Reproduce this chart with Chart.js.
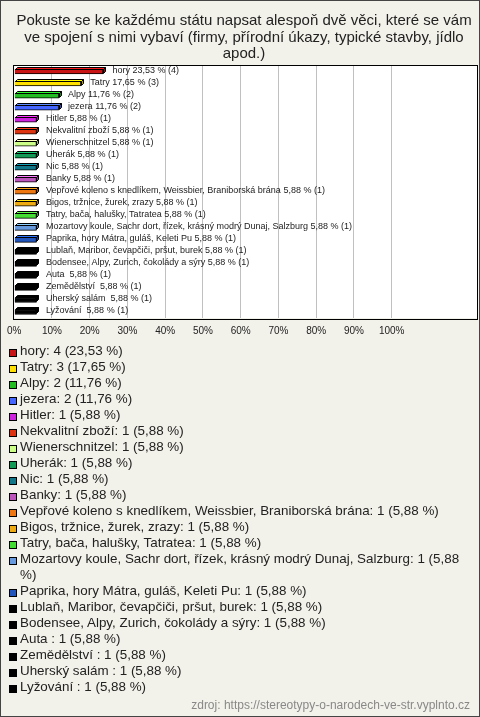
<!DOCTYPE html>
<html>
<head>
<meta charset="utf-8">
<script src="https://cdn.jsdelivr.net/npm/chart.js@4/dist/chart.umd.min.js"></script>
<style>
	body { margin: 0; background: #f3f2ea; }
	#frame { position: relative; width: 480px; height: 717px; background: #f3f2ea; overflow: hidden; font-family: 'Liberation Sans', Arial, sans-serif; }
	#graf { position: absolute; left: 0; top: 0; }
	#legenda { position: absolute; left: 9px; top: 343px; width: 456px; }
	.item { display: flex; align-items: flex-start; font-size: 13.4px; line-height: 16px; color: #222; }
	.ctverec { flex: none; width: 8px; height: 8px; box-sizing: border-box; border: 1px solid #000; margin-top: 6px; margin-right: 3px; }
	#zdroj { position: absolute; right: 10px; top: 698px; font-size: 12px; color: #888; }
	#ramecek { position: absolute; left: 0; top: 0; width: 480px; height: 717px; box-sizing: border-box; border: 1px solid #444; pointer-events: none; }
</style>
</head>
<body>
<div id="frame">
	<canvas id="graf" width="480" height="344"></canvas>
	<div id="legenda"></div>
	<div id="zdroj">zdroj: https://stereotypy-o-narodech-ve-str.vyplnto.cz</div>
	<div id="ramecek"></div>
</div>
<script>
// data
const titulek = [
	'Pokuste se ke každému státu napsat alespoň dvě věci, které se vám',
	've spojení s nimi vybaví (firmy, přírodní úkazy, typické stavby, jídlo',
	'apod.)',
];

const kategorie = [
	'hory',
	'Tatry',
	'Alpy',
	'jezera',
	'Hitler',
	'Nekvalitní zboží',
	'Wienerschnitzel',
	'Uherák',
	'Nic',
	'Banky',
	'Vepřové koleno s knedlíkem, Weissbier, Braniborská brána',
	'Bigos, tržnice, žurek, zrazy',
	'Tatry, bača, halušky, Tatratea',
	'Mozartovy koule, Sachr dort, řízek, krásný modrý Dunaj, Salzburg',
	'Paprika, hory Mátra, guláš, Keleti Pu',
	'Lublaň, Maribor, čevapčiči, pršut, burek',
	'Bodensee, Alpy, Zurich, čokolády a sýry',
	'Auta ',
	'Zemědělství ',
	'Uherský salám ',
	'Lyžování ',
];

const procenta = [23.53, 17.65, 11.76, 11.76, 5.88, 5.88, 5.88, 5.88, 5.88, 5.88, 5.88, 5.88, 5.88, 5.88, 5.88, 5.88, 5.88, 5.88, 5.88, 5.88, 5.88];
const pocty = [4, 3, 2, 2, 1, 1, 1, 1, 1, 1, 1, 1, 1, 1, 1, 1, 1, 1, 1, 1, 1];

const barvy = [
	'#c81414', '#ffe000', '#22bb22', '#4466ff', '#cc22dd',
	'#dd3311', '#ccff88', '#119955', '#117788', '#bb55bb',
	'#ee7711', '#eeaa11', '#44dd33', '#6699dd', '#2255bb',
	'#000000', '#000000', '#000000', '#000000', '#000000', '#000000',
];

const znackyOsy = [0, 10, 20, 30, 40, 50, 60, 70, 80, 90, 100];

function cislo(v) {
	return v.toFixed(2).replace('.', ',');
}

function zesvetlit(hex, k) {
	const n = parseInt(hex.slice(1), 16);
	const r = Math.min(255, Math.round(((n >> 16) & 255) * k));
	const g = Math.min(255, Math.round(((n >> 8) & 255) * k));
	const b = Math.min(255, Math.round((n & 255) * k));
	return 'rgb(' + r + ',' + g + ',' + b + ')';
}

// bila plocha + ramecek grafu
const plochaPlugin = {
	id: 'plocha',
	beforeDraw(chart) {
		const a = chart.chartArea;
		const ctx = chart.ctx;
		ctx.save();
		ctx.fillStyle = '#ffffff';
		ctx.fillRect(a.left, a.top, a.right - a.left, a.bottom - a.top);
		ctx.restore();
	},
	afterDraw(chart) {
		const a = chart.chartArea;
		const ctx = chart.ctx;
		ctx.save();
		ctx.strokeStyle = '#000';
		ctx.lineWidth = 1;
		ctx.strokeRect(Math.round(a.left) - 0.5, Math.round(a.top) - 0.5, Math.round(a.right - a.left) + 1, Math.round(a.bottom - a.top) + 1);
		ctx.restore();
	},
};

// 3D hrana sloupcu a popisky
const hloubka = 2;
const sloupcePlugin = {
	id: 'sloupce3d',
	afterDatasetsDraw(chart) {
		const ctx = chart.ctx;
		const meta = chart.getDatasetMeta(0);
		ctx.save();
		ctx.lineWidth = 1;
		ctx.strokeStyle = '#000';
		meta.data.forEach((el, i) => {
			const p = el.getProps(['x', 'y', 'base', 'height'], true);
			const x = Math.round(p.x) + 0.5;
			const b = Math.round(p.base) + 0.5;
			const top = Math.round(p.y - p.height / 2) + 0.5;
			const bottom = Math.round(p.y + p.height / 2) - 0.5;

			ctx.beginPath();
			ctx.moveTo(b, top);
			ctx.lineTo(b + hloubka, top - hloubka);
			ctx.lineTo(x + hloubka, top - hloubka);
			ctx.lineTo(x, top);
			ctx.closePath();
			ctx.fillStyle = zesvetlit(barvy[i], 1.35);
			ctx.fill();
			ctx.stroke();

			ctx.beginPath();
			ctx.moveTo(x, top);
			ctx.lineTo(x + hloubka, top - hloubka);
			ctx.lineTo(x + hloubka, bottom - hloubka);
			ctx.lineTo(x, bottom);
			ctx.closePath();
			ctx.fillStyle = zesvetlit(barvy[i], 0.7);
			ctx.fill();
			ctx.stroke();

			ctx.font = '9px "Liberation Sans", Arial, sans-serif';
			ctx.fillStyle = '#222';
			ctx.textBaseline = 'middle';
			ctx.textAlign = 'left';
			ctx.fillText(kategorie[i] + ' ' + cislo(procenta[i]) + ' % (' + pocty[i] + ')', p.x + 9.5, p.y - 1);
		});
		ctx.restore();
	},
};

new Chart(document.getElementById('graf'), {
	type: 'bar',
	data: {
		labels: kategorie,
		datasets: [
			{
				data: procenta,
				backgroundColor: barvy,
				borderColor: '#000',
				borderWidth: 1,
				barThickness: 5,
			},
		],
	},
	options: {
		indexAxis: 'y',
		responsive: false,
		animation: false,
		layout: {
			padding: { left: 11, right: 3, top: 0, bottom: 0 },
		},
		plugins: {
			legend: { display: false },
			tooltip: { enabled: false },
			title: {
				display: true,
				text: titulek,
				color: '#222',
				font: { family: '"Liberation Sans", Arial, sans-serif', size: 15, weight: 'normal', lineHeight: 1.1 },
				padding: { top: 13, bottom: 3 },
			},
		},
		scales: {
			x: {
				type: 'linear',
				min: 0,
				max: 122.6,
				afterBuildTicks(axis) {
					axis.ticks = znackyOsy.map((v) => ({ value: v }));
				},
				grid: {
					drawTicks: false,
					color: (c) => (c.tick && c.tick.value === 0 ? 'rgba(0,0,0,0)' : '#c0c0c0'),
				},
				border: { display: false },
				ticks: {
					padding: 7,
					color: '#222',
					maxRotation: 0,
					autoSkip: false,
					font: { family: '"Liberation Sans", Arial, sans-serif', size: 10 },
					callback: (v) => v + '%',
				},
			},
			y: {
				display: false,
			},
		},
	},
	plugins: [plochaPlugin, sloupcePlugin],
});

// legenda pod grafem
const legenda = document.getElementById('legenda');
kategorie.forEach((k, i) => {
	const radek = document.createElement('div');
	radek.className = 'item';
	const ctverec = document.createElement('span');
	ctverec.className = 'ctverec';
	ctverec.style.background = barvy[i];
	const text = document.createElement('span');
	text.textContent = k + ': ' + pocty[i] + ' (' + cislo(procenta[i]) + ' %)';
	radek.appendChild(ctverec);
	radek.appendChild(text);
	legenda.appendChild(radek);
});
</script>
</body>
</html>
